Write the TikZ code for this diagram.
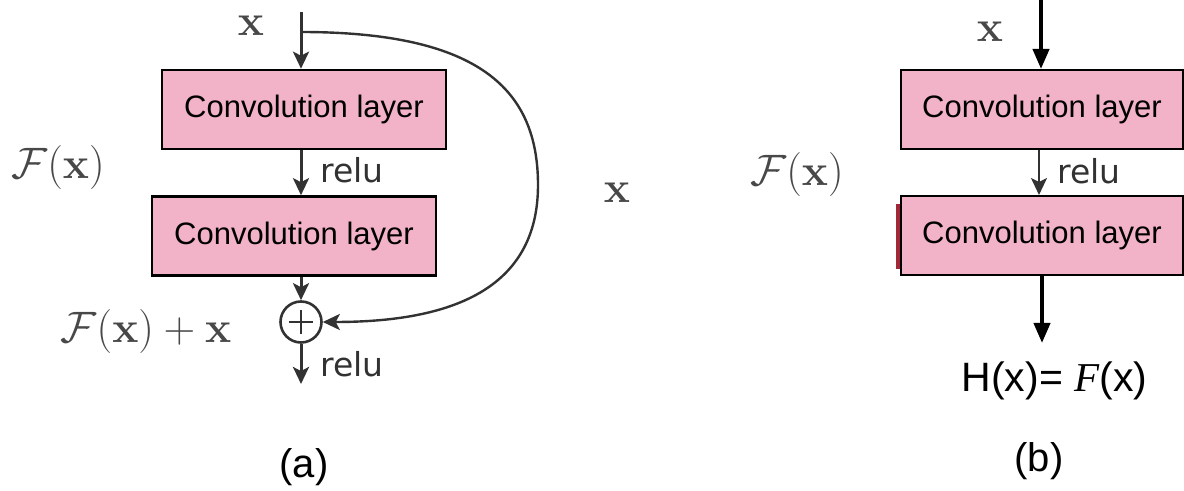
\documentclass[tikz,border=0pt]{standalone}
\usepackage{fix-cm}
\usepackage[no-math]{fontspec}
\setmainfont{Liberation Sans}
\newfontfamily\dejavu{DejaVu Sans}
\newfontfamily\tnr{Liberation Serif}
\usetikzlibrary{arrows.meta}
\definecolor{boxpink}{RGB}{242,178,199}
\definecolor{lblgray}{RGB}{72,72,72}
\definecolor{arrgray}{RGB}{50,50,50}
\definecolor{edgered}{RGB}{160,40,55}
\begin{document}
\begin{tikzpicture}[x=0.5pt,y=-0.5pt,
  convbox/.style={draw=black, fill=boxpink, line width=1.3pt, minimum width=142pt,
    minimum height=39.5pt, inner sep=0pt, font=\fontsize{15.5}{18}\selectfont},
  mlabel/.style={text=lblgray, font=\fontsize{22}{26}\selectfont, inner sep=0pt},
  relulbl/.style={text=arrgray, font=\dejavu\fontsize{16.5}{19}\selectfont, inner sep=0pt},
  caplbl/.style={font=\fontsize{20}{24}\selectfont, inner sep=0pt},
  flow/.style={draw=arrgray, line width=1.5pt, -{Stealth[length=8.5pt,width=8pt,inset=2pt]}},
  heavyflow/.style={draw=black, line width=2pt, -{Triangle[length=10pt,width=8pt]}}
]
\useasboundingbox (0,0) rectangle (1184,491);

% ---------- panel (a) ----------
\node[mlabel] (xa) at (251,26) {$\mathbf{x}$};
\coordinate (ain) at (301,12);
\coordinate (abr) at (301,32);
\node[convbox] (a1) at (304,109.5) {Convolution layer};
\node[convbox] (a2) at (294,236) {Convolution layer};
\node[circle, draw=arrgray, line width=1.3pt, minimum size=20.5pt, inner sep=0pt] (sum) at (301,322) {};
\draw[arrgray, line width=1.3pt] (sum.center) ++(-12,0) -- ++(24,0);
\draw[arrgray, line width=1.3pt] (sum.center) ++(0,-12) -- ++(0,24);
\coordinate (aout) at (301,384);

\draw[flow] (ain) -- (a1.north -| ain);
\draw[flow] (a1.south -| ain) -- (a2.north -| ain);
\draw[flow] (a2.south -| ain) -- (sum.north);
\draw[flow] (sum.south) -- (aout);
\draw[flow, line width=1.2pt] (abr) .. controls (480,32) and (538,90) .. (538,185)
  .. controls (538,290) and (450,322) .. (sum.east);

\node[relulbl, anchor=west] (r1) at (320,170) {relu};
\node[relulbl, anchor=west] (r2) at (320,364) {relu};

\node[mlabel] (fa) at (58,168) {$\mathcal{F}(\mathbf{x})$};
\node[mlabel] (fax) at (146,332) {$\mathcal{F}(\mathbf{x})+\mathbf{x}$};
\node[mlabel] (xm) at (617,193) {$\mathbf{x}$};
\node[caplbl] (capa) at (304,467) {(a)};

% ---------- panel (b) ----------
\node[mlabel] (xb) at (990,32) {$\mathbf{x}$};
\coordinate (bin) at (1041,0);
\coordinate (bmid) at (1039,0);
\coordinate (bout) at (1042,343);
\node[convbox, minimum width=141pt, line width=1pt] (b1) at (1042,109.5) {Convolution layer};
\node[convbox, minimum width=141pt, line width=1pt] (b2) at (1042,235.5) {Convolution layer};
\draw[edgered, line width=2pt] ([xshift=-1pt,yshift=-4.5pt]b2.north west) -- ([xshift=-1pt,yshift=3.5pt]b2.south west);

\draw[heavyflow] (bin) -- (b1.north -| bin);
\draw[flow, line width=1.1pt] (b1.south -| bmid) -- (b2.north -| bmid);
\draw[heavyflow] (b2.south -| bout) -- (bout);

\node[relulbl, anchor=west] (r3) at (1057,171) {relu};
\node[mlabel] (fb) at (797,175) {$\mathcal{F}(\mathbf{x})$};
\node[font=\fontsize{20.5}{24}\selectfont, inner sep=0pt, anchor=base] (hx) at (1054.5,392) {H(x)= {\tnr\itshape F}(x)};
\node[caplbl] (capb) at (1039,461) {(b)};
\end{tikzpicture}
\end{document}
